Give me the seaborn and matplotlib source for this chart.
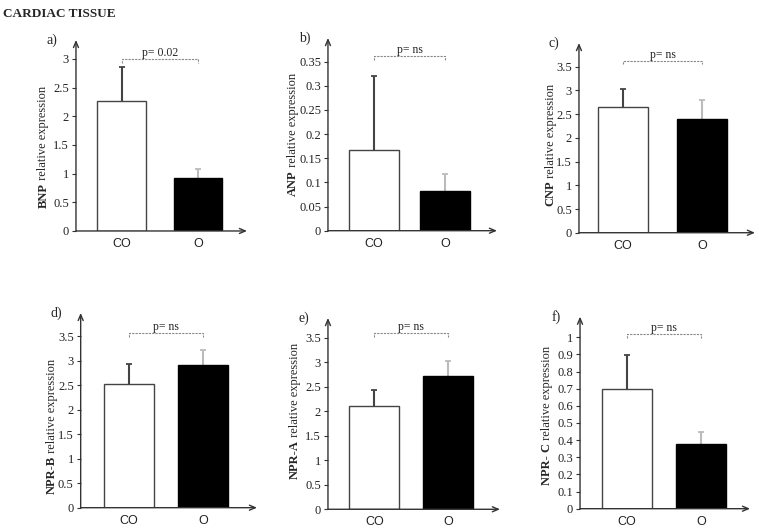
import numpy as np
import pandas as pd
import seaborn as sns
import matplotlib.pyplot as plt

groups = ["CO", "O"]

# mean values and upper error
bnp_mean = [2.27, 0.93]
bnp_err = [0.59, 0.15]
anp_mean = [0.168, 0.082]
anp_err = [0.152, 0.035]
cnp_mean = [2.66, 2.39]
cnp_err = [0.37, 0.40]
nprb_mean = [2.53, 2.91]
nprb_err = [0.40, 0.30]
npra_mean = [2.10, 2.71]
npra_err = [0.33, 0.31]
nprc_mean = [0.70, 0.375]
nprc_err = [0.195, 0.073]

letters = ["a)", "b)", "c)", "d)", "e)", "f)"]
markers = ["BNP", "ANP", "CNP", "NPR-B", "NPR-A", "NPR- C"]
pvals = ["p= 0.02", "p= ns", "p= ns", "p= ns", "p= ns", "p= ns"]
pline_y = [3.0, 0.362, 3.63, 3.56, 3.6, 1.02]
yticks = [np.arange(0, 3.01, 0.5), np.arange(0, 0.351, 0.05), np.arange(0, 3.51, 0.5),
          np.arange(0, 3.51, 0.5), np.arange(0, 3.51, 0.5), np.arange(0, 1.01, 0.1)]
ytop = [3.33, 0.399, 4.0, 3.97, 3.9, 1.12]

means = [bnp_mean, anp_mean, cnp_mean, nprb_mean, npra_mean, nprc_mean]
errs = [bnp_err, anp_err, cnp_err, nprb_err, npra_err, nprc_err]

# layout (figure fractions) and x ranges
boxes = [[0.1001, 0.5642, 0.2253, 0.3604], [0.4321, 0.5647, 0.2227, 0.3636],
         [0.7628, 0.5609, 0.2319, 0.3579], [0.1063, 0.0421, 0.2323, 0.3674],
         [0.4321, 0.0391, 0.2266, 0.3609], [0.7642, 0.0402, 0.2240, 0.3623]]
xlims = [(-0.595, 1.64), (-0.648, 1.73), (-0.557, 1.67), (-0.648, 1.72),
         (-0.628, 1.70), (-0.635, 1.66)]
widths = [0.64, 0.70, 0.63, 0.67, 0.68, 0.68]
label_bottom = [0.12, 0.18, 0.14, 0.07, 0.16, 0.125]
label_x = [-0.19, -0.205, -0.16, -0.165, -0.19, -0.195]


def main():
    sns.set_theme(style="white")
    plt.rcParams["font.family"] = ["Liberation Serif", "DejaVu Serif"]

    fig = plt.figure(figsize=(7.59, 5.30), dpi=100)
    fig.text(0.004, 0.984, "CARDIAC TISSUE", fontsize=9.5, fontweight="bold",
             va="top", ha="left")

    for i in range(6):
        ax = fig.add_axes(boxes[i])
        df = pd.DataFrame({"group": groups, "value": means[i]})
        sns.barplot(data=df, x="group", y="value", hue="group",
                    palette={"CO": "white", "O": "black"}, width=widths[i],
                    errorbar=None, legend=False, ax=ax)
        for patch, ec in zip(ax.patches, ["#444444", "black"]):
            patch.set_edgecolor(ec)
            patch.set_linewidth(1.0)
            patch.set_zorder(3)
        for k, col in enumerate(["#444444", "#bbbbbb"]):
            top = means[i][k] + errs[i][k]
            ax.vlines(k, means[i][k], top, color=col, lw=1.5, zorder=2)
            ax.plot(k, top, marker="_", ms=5, mew=1.3, color=col, zorder=2)

        ax.set_xlim(*xlims[i])
        ax.set_ylim(0, ytop[i])
        ax.set_yticks(yticks[i])
        ax.set_yticklabels(["%g" % round(t, 2) for t in yticks[i]], fontsize=9)
        ax.set_xticks([0, 1])
        ax.set_xticklabels(groups, fontsize=9, family="Liberation Sans")
        ax.tick_params(axis="y", length=3, width=0.8, color="#333333", left=True,
                       pad=2, colors="#222222")
        ax.tick_params(axis="x", length=0, pad=5, colors="#222222")
        ax.set_xlabel("")
        ax.set_ylabel("")
        for s in ax.spines.values():
            s.set_visible(False)
        ax.set_facecolor("none")

        # axes with arrow heads
        ax.annotate("", xy=(0, 1), xytext=(0, 0), xycoords="axes fraction",
                    arrowprops=dict(arrowstyle="->,head_length=0.35,head_width=0.15",
                                    color="#333333", lw=1.0, shrinkA=0, shrinkB=0))
        ax.annotate("", xy=(1, 0), xytext=(0, 0), xycoords="axes fraction",
                    arrowprops=dict(arrowstyle="->,head_length=0.35,head_width=0.15",
                                    color="#333333", lw=1.0, shrinkA=0, shrinkB=0))

        # significance bracket
        yl = pline_y[i]
        drop = ytop[i] * 0.02
        ax.plot([0, 0, 1, 1], [yl - drop, yl, yl, yl - drop], ls=(0, (2, 1)),
                color="#888888", lw=0.8, clip_on=False)
        ax.text(0.5, yl, pvals[i], ha="center", va="bottom", fontsize=8.5)

        # panel letter
        ax.text(-0.14, 1.0, letters[i], transform=ax.transAxes, fontsize=10,
                ha="center", va="center")

        # y label: bold marker + normal text
        t1 = ax.text(label_x[i], label_bottom[i], markers[i], rotation=90,
                     transform=ax.transAxes, ha="center", va="bottom",
                     fontsize=9, fontweight="bold")
        ax.annotate(" relative expression", xy=(0.5, 1), xycoords=t1,
                    rotation=90, ha="center", va="bottom", fontsize=9)

    fig.savefig("out.png", dpi=100)


if __name__ == "__main__":
    main()
